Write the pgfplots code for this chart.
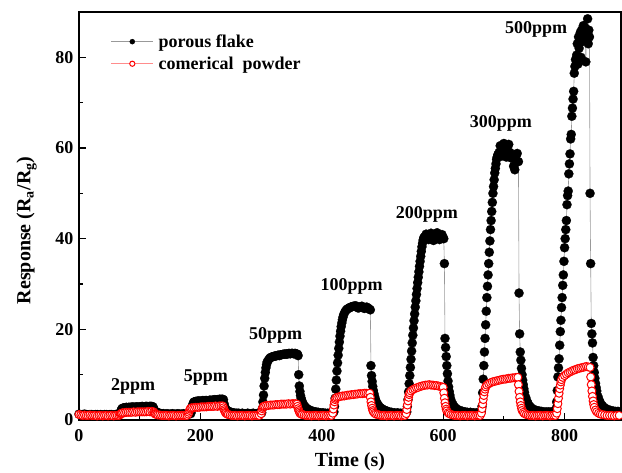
\documentclass[border=0pt]{standalone}
\usepackage{fontspec}
\setmainfont{Liberation Serif}
\usepackage{pgfplots}
\usepackage{pgfplotstable}
\pgfplotsset{compat=1.18}

\pgfplotstableread[row sep=\\]{
t y\\
0 1.3\\3 1.2\\6 1.2\\9 1.3\\12 1.2\\15 1.1\\18 1.2\\21 1.2\\24 1.1\\27 1.2\\30 1.2\\33 1.1\\36 1.2\\39 1.1\\42 1.2\\45 1.2\\48 1.1\\51 1.2\\54 1.2\\57 1.1\\60 1.2\\63 1.2\\66 1.3\\
68 1.6\\69 2.0\\70 2.3\\71 2.5\\72 2.6\\74 2.7\\76 2.7\\78 2.8\\80 2.7\\82 2.8\\84 2.8\\86 2.8\\88 2.9\\90 2.8\\92 2.8\\94 2.9\\96 2.9\\98 2.8\\100 2.9\\102 2.9\\104 3.0\\106 2.9\\108 2.9\\110 3.0\\112 3.0\\114 2.9\\116 3.0\\118 3.0\\120 3.0\\122 2.9\\
123 2.5\\124 2.2\\125 2.0\\126 1.8\\128 1.7\\130 1.6\\133 1.5\\136 1.4\\139 1.4\\
142 1.3\\145 1.4\\148 1.3\\151 1.3\\154 1.4\\157 1.3\\160 1.3\\163 1.4\\166 1.3\\169 1.3\\172 1.4\\175 1.3\\178 1.3\\181 1.4\\184 1.4\\
185 1.8\\186 2.6\\187 3.2\\188 3.6\\189 3.9\\190 4.0\\192 4.1\\194 4.1\\196 4.2\\198 4.2\\200 4.1\\202 4.2\\204 4.3\\206 4.2\\208 4.3\\210 4.3\\212 4.2\\214 4.3\\216 4.4\\218 4.3\\220 4.4\\222 4.4\\224 4.5\\226 4.4\\228 4.5\\230 4.5\\232 4.6\\234 4.5\\236 4.6\\
238 4.5\\239 3.6\\240 3.0\\241 2.6\\242 2.3\\244 2.1\\246 1.9\\248 1.8\\251 1.7\\254 1.6\\257 1.5\\260 1.5\\
263 1.5\\266 1.4\\269 1.5\\272 1.4\\275 1.4\\278 1.5\\281 1.4\\284 1.4\\287 1.5\\290 1.4\\293 1.4\\296 1.5\\299 1.4\\
301 1.6\\302 2.5\\303 4.0\\304 5.5\\305 7.5\\306 9.2\\307 10.5\\308 11.5\\309 12.2\\310 12.8\\312 13.2\\314 13.6\\316 13.8\\318 13.9\\320 14.0\\322 14.1\\324 14.1\\326 14.2\\328 14.3\\330 14.2\\332 14.4\\334 14.4\\336 14.5\\338 14.5\\340 14.6\\342 14.5\\344 14.6\\346 14.7\\348 14.6\\350 14.7\\352 14.7\\354 14.6\\356 14.7\\358 14.6\\360 14.5\\
361 14.2\\362 10.0\\363 7.5\\364 6.3\\365 5.4\\366 4.8\\367 4.3\\368 3.9\\370 3.4\\372 3.0\\374 2.7\\377 2.4\\380 2.2\\383 2.0\\386 1.9\\390 1.8\\394 1.7\\398 1.6\\402 1.6\\406 1.5\\410 1.5\\414 1.5\\418 1.5\\
420 1.8\\421 3.0\\422 4.8\\423 6.8\\424 8.8\\425 10.8\\426 12.6\\427 14.3\\428 15.8\\429 17.2\\430 18.5\\431 19.6\\432 20.6\\433 21.4\\434 22.1\\435 22.7\\436 23.2\\438 23.8\\440 24.2\\442 24.5\\444 24.6\\446 24.8\\448 24.9\\450 25.0\\452 25.1\\454 25.1\\456 25.2\\458 24.9\\460 24.7\\462 24.8\\464 25.0\\466 25.1\\468 24.9\\470 24.6\\472 24.8\\474 24.9\\476 24.7\\478 24.5\\480 24.3\\
481 12.0\\482 9.8\\483 8.5\\484 7.4\\485 6.5\\486 5.8\\487 5.2\\488 4.7\\490 4.0\\492 3.5\\494 3.1\\497 2.7\\500 2.4\\503 2.2\\507 2.0\\511 1.8\\515 1.7\\520 1.6\\525 1.6\\530 1.5\\534 1.5\\538 1.5\\
540 1.8\\541 3.0\\542 4.5\\543 6.2\\544 8.0\\545 9.8\\546 11.6\\547 13.4\\548 15.2\\549 17.0\\550 18.7\\551 20.3\\552 21.9\\553 23.4\\554 24.9\\555 26.3\\556 27.7\\557 29.0\\558 30.3\\559 31.5\\560 32.7\\561 33.9\\562 35.0\\563 36.1\\564 37.2\\565 38.2\\566 39.0\\567 39.7\\568 40.2\\570 40.5\\572 41.0\\574 40.3\\576 39.8\\578 40.6\\580 41.2\\582 40.4\\584 39.6\\586 40.0\\588 40.8\\590 41.3\\592 40.5\\594 39.8\\596 40.4\\598 40.9\\600 40.2\\
601 40.0\\602 34.5\\603 18.0\\604 16.0\\605 14.0\\606 12.0\\607 10.2\\608 8.6\\609 7.3\\610 6.3\\611 5.5\\612 4.8\\614 4.0\\616 3.4\\618 3.0\\621 2.6\\624 2.3\\628 2.1\\632 1.9\\636 1.8\\640 1.7\\645 1.7\\650 1.6\\655 1.6\\659 1.6\\662 1.6\\
663 2.0\\664 3.0\\665 6.0\\666 9.0\\667 12.0\\668 15.0\\669 18.0\\670 21.0\\671 24.0\\672 27.0\\673 29.5\\674 32.0\\675 34.5\\676 37.0\\677 39.5\\678 42.0\\679 44.0\\680 46.0\\681 48.0\\682 50.0\\683 51.5\\684 53.0\\685 54.5\\686 55.5\\687 56.5\\688 57.5\\689 58.0\\690 58.5\\692 59.0\\694 60.5\\696 58.2\\698 59.8\\700 61.0\\702 59.5\\704 58.0\\706 60.2\\708 60.8\\710 59.0\\712 57.8\\714 58.5\\716 56.0\\718 55.2\\720 57.5\\722 58.8\\
724 57.0\\725 28.0\\726 19.0\\727 15.0\\728 13.2\\729 11.4\\730 10.0\\731 8.8\\732 7.8\\733 6.9\\734 6.1\\736 5.0\\738 4.2\\740 3.6\\743 3.0\\746 2.6\\750 2.3\\754 2.1\\758 2.0\\762 1.9\\766 1.8\\770 1.8\\774 1.8\\778 1.8\\782 1.8\\785 1.9\\
786 2.5\\787 4.0\\788 6.5\\789 9.5\\790 11.5\\791 13.5\\792 16.5\\793 19.5\\794 22.0\\795 24.8\\796 27.0\\797 29.7\\798 32.0\\799 35.0\\800 38.0\\801 40.0\\802 42.0\\803 44.0\\804 47.5\\805 49.5\\806 50.5\\807 54.3\\808 56.5\\809 58.7\\810 62.0\\811 63.0\\812 67.0\\813 68.8\\814 70.8\\815 72.5\\816 76.5\\817 78.0\\818 79.5\\820 80.5\\821 83.0\\822 78.5\\823 84.5\\824 82.0\\826 85.5\\827 80.0\\828 86.0\\830 83.5\\831 87.0\\832 84.0\\834 86.5\\835 79.0\\836 85.0\\838 88.5\\839 83.0\\840 86.0\\841 84.5\\
842 50.0\\843 34.5\\844 21.3\\845 19.0\\846 17.0\\847 13.8\\848 12.0\\849 10.5\\850 9.2\\851 8.1\\852 7.2\\853 6.4\\855 5.2\\857 4.4\\859 3.8\\862 3.2\\865 2.8\\868 2.5\\872 2.3\\876 2.1\\880 2.0\\884 1.9\\888 1.9\\892 1.8\\896 1.8\\900 1.8\\
}\blackdata

\pgfplotstableread[row sep=\\]{
t y\\
0 1.2\\3 1.1\\6 1.0\\9 1.1\\12 1.0\\15 1.0\\18 1.1\\21 1.0\\24 1.0\\27 1.0\\30 0.9\\33 1.0\\36 1.0\\39 0.9\\42 1.0\\45 1.0\\48 0.9\\51 1.0\\54 1.0\\57 0.9\\60 1.0\\63 1.0\\66 1.0\\
68 1.2\\69 1.4\\70 1.5\\72 1.6\\75 1.6\\78 1.7\\81 1.7\\84 1.7\\87 1.7\\90 1.8\\93 1.7\\96 1.8\\99 1.8\\102 1.8\\105 1.8\\108 1.8\\111 1.8\\114 1.9\\117 1.8\\120 1.9\\123 1.8\\
124 1.6\\125 1.4\\126 1.3\\128 1.2\\130 1.1\\133 1.1\\136 1.0\\
139 1.0\\142 1.0\\145 1.0\\148 0.9\\151 1.0\\154 1.0\\157 1.0\\160 0.9\\163 1.0\\166 1.0\\169 1.0\\172 1.0\\175 1.0\\178 1.0\\
180 1.3\\181 1.7\\182 2.1\\183 2.4\\184 2.6\\186 2.7\\189 2.7\\192 2.8\\195 2.8\\198 2.8\\201 2.9\\204 2.9\\207 2.9\\210 2.9\\213 3.0\\216 3.0\\219 3.0\\222 3.0\\225 3.1\\228 3.0\\231 3.1\\234 3.1\\237 3.1\\
238 2.7\\239 2.3\\240 2.0\\241 1.7\\242 1.5\\244 1.3\\246 1.2\\249 1.1\\252 1.0\\
255 1.0\\258 1.0\\261 0.9\\264 1.0\\267 1.0\\270 1.0\\273 0.9\\276 1.0\\279 1.0\\282 1.0\\285 0.9\\288 1.0\\291 1.0\\294 1.0\\297 1.0\\
300 1.4\\301 2.0\\302 2.5\\303 2.8\\304 3.0\\306 3.1\\309 3.2\\312 3.2\\315 3.3\\318 3.3\\321 3.3\\324 3.4\\327 3.4\\330 3.4\\333 3.5\\336 3.5\\339 3.5\\342 3.5\\345 3.6\\348 3.5\\351 3.6\\354 3.6\\357 3.6\\359 3.5\\
360 3.0\\361 2.5\\362 2.1\\363 1.8\\364 1.5\\366 1.3\\368 1.2\\371 1.1\\374 1.0\\
377 1.0\\380 1.0\\383 0.9\\386 1.0\\389 1.0\\392 1.0\\395 0.9\\398 1.0\\401 1.0\\404 1.0\\407 0.9\\410 1.0\\413 1.0\\416 1.0\\
418 1.5\\419 2.4\\420 3.3\\421 4.0\\422 4.5\\423 4.8\\425 5.0\\428 5.1\\431 5.2\\434 5.3\\437 5.3\\440 5.4\\443 5.5\\446 5.5\\449 5.6\\452 5.6\\455 5.7\\458 5.7\\461 5.8\\464 5.8\\467 5.8\\470 5.9\\473 5.9\\476 5.8\\479 5.9\\
480 5.0\\481 4.0\\482 3.2\\483 2.6\\484 2.1\\485 1.8\\487 1.5\\489 1.3\\492 1.2\\495 1.1\\498 1.0\\
501 1.0\\504 1.0\\507 0.9\\510 1.0\\513 1.0\\516 1.0\\519 0.9\\522 1.0\\525 1.0\\528 1.0\\531 0.9\\534 1.0\\537 1.0\\
539 1.4\\540 2.3\\541 3.3\\542 4.2\\543 5.0\\544 5.6\\545 6.0\\547 6.4\\550 6.7\\553 6.9\\556 7.1\\559 7.2\\562 7.4\\565 7.5\\568 7.6\\571 7.7\\574 7.7\\577 7.8\\580 7.7\\583 7.7\\586 7.6\\589 7.6\\592 7.5\\595 7.4\\598 7.3\\600 7.2\\
601 6.0\\602 4.8\\603 3.8\\604 3.0\\605 2.4\\606 2.0\\608 1.6\\610 1.4\\613 1.2\\616 1.1\\619 1.0\\
622 1.0\\625 1.0\\628 0.9\\631 1.0\\634 1.0\\637 1.0\\640 0.9\\643 1.0\\646 1.0\\649 1.0\\652 0.9\\655 1.0\\658 1.0\\661 1.0\\
663 1.5\\664 2.5\\665 3.5\\666 4.5\\667 5.4\\668 6.2\\669 6.8\\670 7.3\\672 7.7\\675 8.0\\678 8.2\\681 8.4\\684 8.5\\687 8.6\\690 8.7\\693 8.8\\696 8.9\\699 9.0\\702 9.0\\705 9.1\\708 9.2\\711 9.2\\714 9.3\\717 9.3\\720 9.4\\723 9.4\\
724 7.8\\725 6.3\\726 5.0\\727 4.0\\728 3.2\\729 2.6\\730 2.1\\732 1.7\\734 1.4\\737 1.2\\740 1.1\\743 1.0\\
746 1.0\\749 1.0\\752 0.9\\755 1.0\\758 1.0\\761 1.0\\764 0.9\\767 1.0\\770 1.0\\773 1.0\\776 0.9\\779 1.0\\782 1.0\\785 1.0\\
787 1.5\\788 2.5\\789 3.6\\790 4.8\\791 5.9\\792 6.9\\793 7.7\\794 8.4\\795 8.9\\797 9.4\\800 9.8\\803 10.1\\806 10.4\\809 10.6\\812 10.8\\815 11.0\\818 11.1\\821 11.3\\824 11.4\\827 11.5\\830 11.6\\833 11.7\\836 11.8\\839 11.7\\842 11.6\\
843 9.5\\844 7.8\\845 6.4\\846 5.2\\847 4.2\\848 3.4\\849 2.8\\851 2.2\\853 1.8\\856 1.5\\859 1.3\\862 1.2\\866 1.1\\870 1.0\\
874 1.0\\878 1.0\\882 0.9\\886 1.0\\890 1.0\\894 1.0\\898 1.0\\
}\reddata

\newcommand{\bigbf}{\fontsize{18}{20}\selectfont\bfseries}

\begin{document}
\begin{tikzpicture}
\useasboundingbox (-79pt,-53pt) rectangle (543pt,420pt);
\begin{axis}[
  scale only axis, width=542pt, height=408pt,
  xmin=0, xmax=893, ymin=0, ymax=90,
  xtick={0,200,400,600,800}, ytick={0,20,40,60,80},
  minor xtick={100,300,500,700}, minor ytick={10,30,50,70},
  tick pos=left, tick align=inside,
  major tick length=7pt, minor tick length=4pt,
  every tick/.style={black, line width=1.2pt},
  axis line style={line width=1.6pt},
  /pgf/number format/assume math mode=true,
  ticklabel style={font=\bigbf},
  xticklabel style={yshift=-6pt},
  yticklabel style={xshift=-2pt},
  xlabel={Time (s)},
  ylabel={Response (R\textsubscript{a}/R\textsubscript{g})},
  xlabel shift=4pt, ylabel shift=12pt,
  ylabel style={at={(ticklabel cs:0.465)}},
  label style={font=\fontsize{20}{22}\selectfont\bfseries},
  legend style={draw=none, fill=none, at={(rel axis cs:0.055,0.955)}, anchor=north west,
    font=\bigbf, row sep=4pt, inner sep=2pt, nodes={inner xsep=5pt}},
  legend cell align=left,
  legend image code/.code={\draw[mark repeat=2,mark phase=2,#1,mark size=2.6pt] plot coordinates {(0pt,0pt) (21pt,0pt) (42pt,0pt)};},
]
\addplot[gray!80, line width=0.6pt, mark=*, mark size=4.6pt,
  mark options={solid, fill=black, draw=black, line width=0.2pt}]
  table[x=t, y=y] {\blackdata};
\addlegendentry{porous flake}
\addplot[red!45, line width=0.6pt, mark=*, mark size=4pt,
  mark options={solid, fill=white, draw=red, line width=1pt}]
  table[x=t, y=y] {\reddata};
\addlegendentry{comerical~~powder}

\node[font=\bigbf] at (axis cs:89,7.3) {2ppm};
\node[font=\bigbf] at (axis cs:209,9.3) {5ppm};
\node[font=\bigbf] at (axis cs:324,18.7) {50ppm};
\node[font=\bigbf] at (axis cs:449,29.4) {100ppm};
\node[font=\bigbf] at (axis cs:573,45.3) {200ppm};
\node[font=\bigbf] at (axis cs:695,65.4) {300ppm};
\node[font=\bigbf] at (axis cs:753,86.1) {500ppm};
\end{axis}
\end{tikzpicture}
\end{document}
